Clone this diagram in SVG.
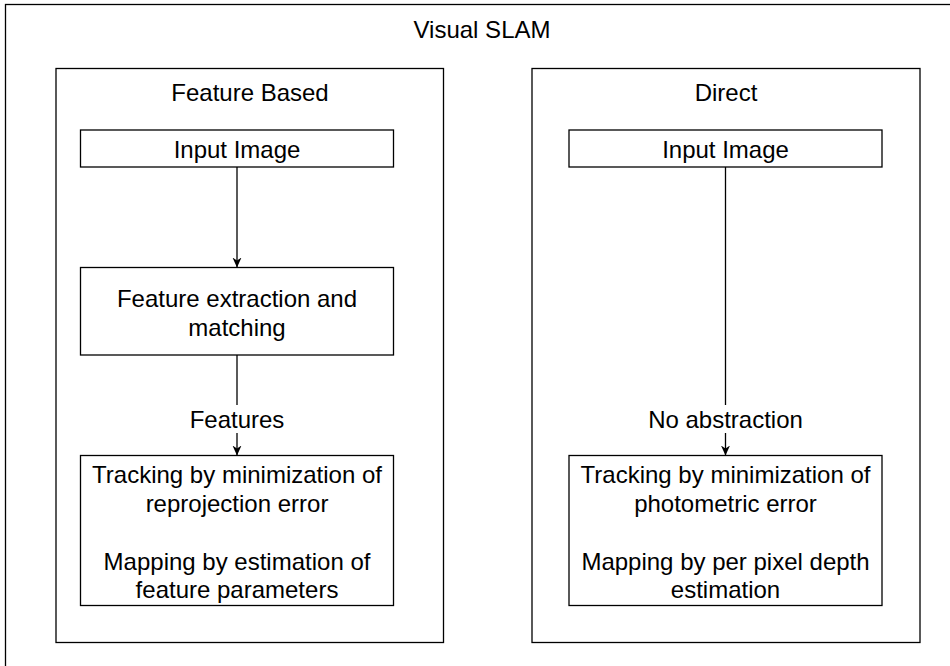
<svg xmlns="http://www.w3.org/2000/svg" width="950" height="666" viewBox="0 0 950 666">
<style>
.box{fill:#fff;stroke:#000;stroke-width:1.3}
.t{font-family:"Liberation Sans",Arial,sans-serif;font-size:24px;fill:#000;text-anchor:middle}
.lbl{fill:#fff;stroke:none}
.c{stroke:#000;stroke-width:1.3;fill:none}
</style>
<defs>
<marker id="ah" markerWidth="10" markerHeight="10" viewBox="0 0 10 10" refX="10" refY="5" orient="auto" markerUnits="userSpaceOnUse">
<path d="M0,0.5 L10,5 L0,9.5 L3,5 Z" fill="#000"/>
</marker>
</defs>
<rect width="950" height="666" fill="#fff"/>
<g id="visual-slam">
<rect class="box" x="5.5" y="4.5" width="960" height="700"/>
<text class="t" x="482" y="38">Visual SLAM</text>
</g>
<g id="feature-based">
<rect class="box" x="56" y="68.5" width="387.5" height="574"/>
<text class="t" x="250" y="101">Feature Based</text>
</g>
<g id="direct">
<rect class="box" x="532" y="68.5" width="388" height="574"/>
<text class="t" x="726" y="101">Direct</text>
</g>
<g id="fb-input">
<rect class="box" x="80.5" y="130" width="313" height="37"/>
<text class="t" x="237" y="158">Input Image</text>
</g>
<g id="fb-extract">
<rect class="box" x="80.5" y="267.5" width="313" height="87.5"/>
<text class="t" x="237" y="306.5">Feature extraction and</text>
<text class="t" x="237" y="335.5">matching</text>
</g>
<g id="fb-track">
<rect class="box" x="80.5" y="455.5" width="313" height="150"/>
<text class="t" x="237" y="483">Tracking by minimization of</text>
<text class="t" x="237" y="512">reprojection error</text>
<text class="t" x="237" y="569.5">Mapping by estimation of</text>
<text class="t" x="237" y="598">feature parameters</text>
</g>
<g id="d-input">
<rect class="box" x="569" y="130" width="313" height="37"/>
<text class="t" x="725.5" y="158">Input Image</text>
</g>
<g id="d-track">
<rect class="box" x="569" y="455.5" width="313" height="150"/>
<text class="t" x="725.5" y="483">Tracking by minimization of</text>
<text class="t" x="725.5" y="512">photometric error</text>
<text class="t" x="725.5" y="569.5">Mapping by per pixel depth</text>
<text class="t" x="725.5" y="598">estimation</text>
</g>
<g id="connectors">
<path class="c" d="M237,167 L237,267.5" marker-end="url(#ah)"/>
<path class="c" d="M237,355 L237,455.5" marker-end="url(#ah)"/>
<path class="c" d="M725.5,167 L725.5,455.5" marker-end="url(#ah)"/>
<rect class="lbl" x="188" y="405" width="98" height="28"/>
<text class="t" x="237" y="428">Features</text>
<rect class="lbl" x="645" y="405" width="161" height="28"/>
<text class="t" x="725.5" y="428">No abstraction</text>
</g>
</svg>
